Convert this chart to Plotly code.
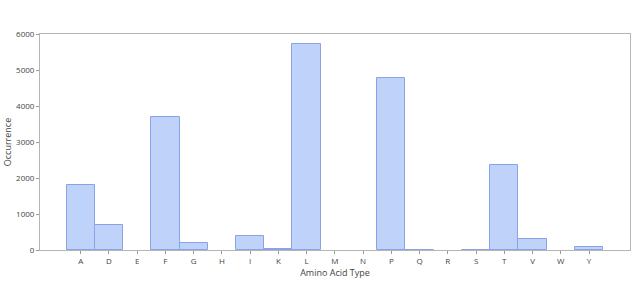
import plotly.graph_objects as go

categories = ["A", "D", "E", "F", "G", "H", "I", "K", "L", "M", "N", "P", "Q", "R", "S", "T", "V", "W", "Y"]
occurrence = [1800, 700, 0, 3700, 190, 0, 400, 20, 5710, 0, 0, 4770, 12, 0, 6, 2360, 300, 0, 75]

line_widths = [1 if v > 0 else 0 for v in occurrence]

fig = go.Figure()
fig.add_trace(go.Bar(
    x=categories, y=occurrence,
    marker=dict(color="rgba(190,210,250,1)", line=dict(color="#8aa2e6", width=line_widths)),
))

axis_common = dict(
    showline=True, linecolor="#b5b5b5", linewidth=1, mirror=True,
    ticks="outside", ticklen=3, tickcolor="#9a9a9a",
    showgrid=False, zeroline=False,
    tickfont=dict(family="Open Sans", size=8, color="#444"),
)

fig.update_layout(
    width=637, height=281,
    margin=dict(l=40, r=7, t=34, b=31),
    paper_bgcolor="white", plot_bgcolor="white",
    bargap=0, showlegend=False,
    xaxis=dict(**axis_common, range=[-1.44, 19.45],
               title=dict(text="Amino Acid Type", font=dict(family="Open Sans", size=9, color="#444"), standoff=2)),
    yaxis=dict(**axis_common, range=[0, 6000], dtick=1000,
               title=dict(text="Occurrence", font=dict(family="Open Sans", size=9, color="#444"), standoff=2)),
)

fig.write_html("out.html")
